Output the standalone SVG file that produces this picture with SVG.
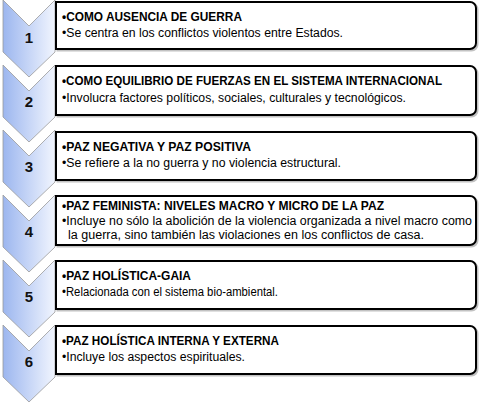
<svg xmlns="http://www.w3.org/2000/svg" width="480" height="406" viewBox="0 0 480 406">
<defs>
<linearGradient id="chev" x1="0" y1="0" x2="1" y2="0">
<stop offset="0" stop-color="#9cb6ef"/>
<stop offset="1" stop-color="#f1f5fe"/>
</linearGradient>
<style>
.chev{fill:url(#chev);stroke:#9a9a9a;stroke-width:0.8}
.num{font-family:"Liberation Sans",Arial,sans-serif;font-weight:bold;font-size:15px;fill:#111;text-anchor:middle}
.box{fill:#fff;stroke:#000;stroke-width:2}
.shadow{fill:none;stroke:#999;stroke-width:2;opacity:0.6}
.t{font-family:"Liberation Sans",Arial,sans-serif;font-weight:bold;font-size:12px;fill:#000}
.d{font-family:"Liberation Sans",Arial,sans-serif;font-size:12px;fill:#000}
</style>
</defs>
<g id="connectors"/>
<g id="step1">
<path class="chev" d="M3,0 L29,26 L55,0 L55,52 L29,77 L3,52 Z"/>
<text class="num" x="29" y="43">1</text>
<path class="shadow" d="M57.5,3.5 H471.5 A6,6 0 0 1 477.5,9.5 V44.5 A6,6 0 0 1 471.5,50.5 H57.5 Z"/>
<path class="box" d="M56,2 H470 A6,6 0 0 1 476,8 V43 A6,6 0 0 1 470,49 H56 Z"/>
<text class="t" x="62" y="21" textLength="180" lengthAdjust="spacingAndGlyphs">•COMO AUSENCIA DE GUERRA</text>
<text class="d" x="62" y="37" textLength="281" lengthAdjust="spacingAndGlyphs">•Se centra en los conflictos violentos entre Estados.</text>
</g>
<g id="step2">
<path class="chev" d="M3,65 L29,91 L55,65 L55,117 L29,142 L3,117 Z"/>
<text class="num" x="29" y="107">2</text>
<path class="shadow" d="M57.5,67.5 H471.5 A6,6 0 0 1 477.5,73.5 V110.5 A6,6 0 0 1 471.5,116.5 H57.5 Z"/>
<path class="box" d="M56,66 H470 A6,6 0 0 1 476,72 V109 A6,6 0 0 1 470,115 H56 Z"/>
<text class="t" x="62" y="85" textLength="380" lengthAdjust="spacingAndGlyphs">•COMO EQUILIBRIO DE FUERZAS EN EL SISTEMA INTERNACIONAL</text>
<text class="d" x="62" y="102" textLength="344" lengthAdjust="spacingAndGlyphs">•Involucra factores políticos, sociales, culturales y tecnológicos.</text>
</g>
<g id="step3">
<path class="chev" d="M3,130 L29,156 L55,130 L55,182 L29,207 L3,182 Z"/>
<text class="num" x="29" y="172">3</text>
<path class="shadow" d="M57.5,133.5 H471.5 A6,6 0 0 1 477.5,139.5 V175.5 A6,6 0 0 1 471.5,181.5 H57.5 Z"/>
<path class="box" d="M56,132 H470 A6,6 0 0 1 476,138 V174 A6,6 0 0 1 470,180 H56 Z"/>
<text class="t" x="62" y="151" textLength="189" lengthAdjust="spacingAndGlyphs">•PAZ NEGATIVA Y PAZ POSITIVA</text>
<text class="d" x="62" y="167" textLength="279" lengthAdjust="spacingAndGlyphs">•Se refiere a la no guerra y no violencia estructural.</text>
</g>
<g id="step4">
<path class="chev" d="M3,195 L29,221 L55,195 L55,247 L29,272 L3,247 Z"/>
<text class="num" x="29" y="237">4</text>
<path class="shadow" d="M57.5,197.5 H471.5 A6,6 0 0 1 477.5,203.5 V240.5 A6,6 0 0 1 471.5,246.5 H57.5 Z"/>
<path class="box" d="M56,196 H470 A6,6 0 0 1 476,202 V239 A6,6 0 0 1 470,245 H56 Z"/>
<text class="t" x="62" y="210" textLength="322" lengthAdjust="spacingAndGlyphs">•PAZ FEMINISTA: NIVELES MACRO Y MICRO DE LA PAZ</text>
<text class="d" x="62" y="225" textLength="410" lengthAdjust="spacingAndGlyphs">•Incluye no sólo la abolición de la violencia organizada a nivel macro como</text>
<text class="d" x="68" y="239" textLength="356" lengthAdjust="spacingAndGlyphs">la guerra, sino también las violaciones en los conflictos de casa.</text>
</g>
<g id="step5">
<path class="chev" d="M3,260 L29,286 L55,260 L55,312 L29,337 L3,312 Z"/>
<text class="num" x="29" y="302">5</text>
<path class="shadow" d="M57.5,262.5 H471.5 A6,6 0 0 1 477.5,268.5 V304.5 A6,6 0 0 1 471.5,310.5 H57.5 Z"/>
<path class="box" d="M56,261 H470 A6,6 0 0 1 476,267 V303 A6,6 0 0 1 470,309 H56 Z"/>
<text class="t" x="62" y="280" textLength="129" lengthAdjust="spacingAndGlyphs">•PAZ HOLÍSTICA-GAIA</text>
<text class="d" x="62" y="296" textLength="216" lengthAdjust="spacingAndGlyphs">•Relacionada con el sistema bio-ambiental.</text>
</g>
<g id="step6">
<path class="chev" d="M3,325 L29,351 L55,325 L55,377 L29,402 L3,377 Z"/>
<text class="num" x="29" y="367">6</text>
<path class="shadow" d="M57.5,327.5 H471.5 A6,6 0 0 1 477.5,333.5 V369.5 A6,6 0 0 1 471.5,375.5 H57.5 Z"/>
<path class="box" d="M56,326 H470 A6,6 0 0 1 476,332 V368 A6,6 0 0 1 470,374 H56 Z"/>
<text class="t" x="62" y="345" textLength="217" lengthAdjust="spacingAndGlyphs">•PAZ HOLÍSTICA INTERNA Y EXTERNA</text>
<text class="d" x="62" y="361" textLength="183" lengthAdjust="spacingAndGlyphs">•Incluye los aspectos espirituales.</text>
</g>
</svg>
